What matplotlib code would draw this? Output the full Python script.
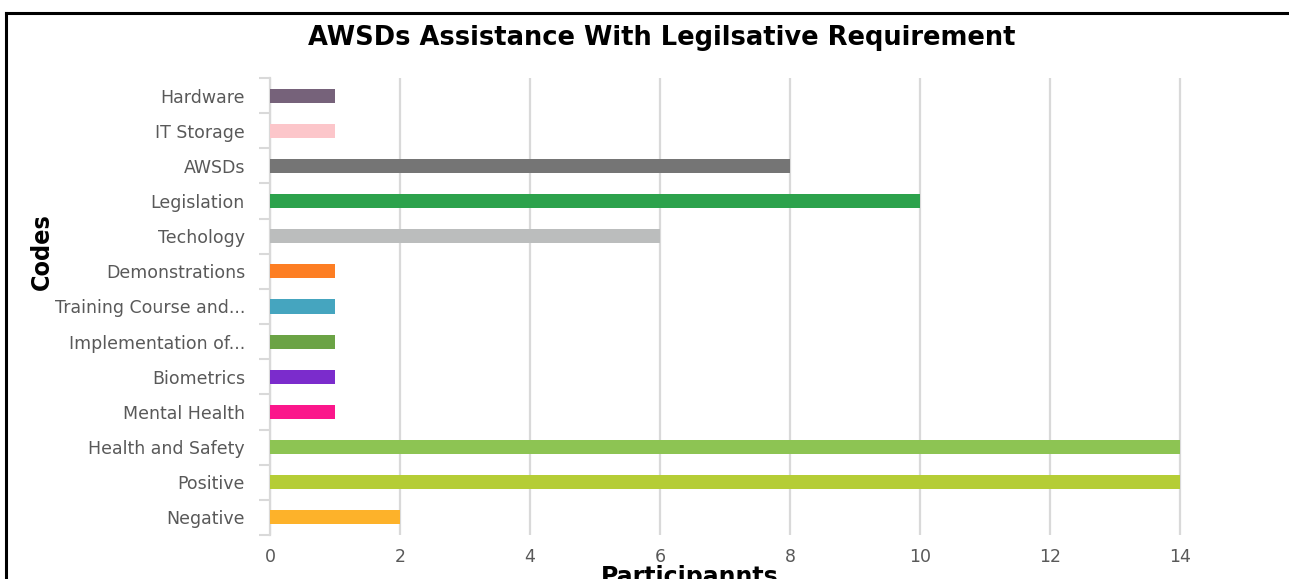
import matplotlib.pyplot as plt
from matplotlib.lines import Line2D

# data, listed top to bottom as in the chart
codes = ['Hardware', 'IT Storage', 'AWSDs', 'Legislation', 'Techology',
         'Demonstrations', 'Training Course and...', 'Implementation of...',
         'Biometrics', 'Mental Health', 'Health and Safety', 'Positive', 'Negative']
participants = [1, 1, 8, 10, 6, 1, 1, 1, 1, 1, 14, 14, 2]
bar_colors = ['#76627a', '#fcc6ca', '#757575', '#2ca24c', '#bbbdbd',
              '#fd7e23', '#45a5bf', '#6ba345', '#7b2ccc', '#fb168b',
              '#8dc453', '#b5cd36', '#fdb22a']
xticks = [0, 2, 4, 6, 8, 10, 12, 14]

plt.rcParams['font.family'] = ['DejaVu Sans']

fig = plt.figure(figsize=(12.89, 5.79), dpi=100)
ax = fig.add_axes([270 / 1289, 1 - 535 / 579, 1 - 270 / 1289, (535 - 78) / 579])

ypos = list(range(len(codes)))
ax.barh(ypos, participants, height=0.4, color=bar_colors, zorder=3)
ax.set_ylim(len(codes) - 0.5, -0.5)
ax.set_xlim(0, (1289 - 270) / 65)

ax.set_yticks(ypos)
ax.set_yticklabels(codes, fontsize=12.5, color='#595959')
ax.tick_params(axis='y', which='major', length=0, pad=18)
ax.set_yticks([i - 0.5 for i in range(len(codes) + 1)], minor=True)
ax.tick_params(axis='y', which='minor', length=8, color='#d9d9d9', width=1.5)

ax.set_xticks(xticks)
ax.set_xticklabels([str(t) for t in xticks], fontsize=12.5, color='#595959')
ax.tick_params(axis='x', length=0, pad=9)

ax.grid(axis='x', color='#d9d9d9', linewidth=1.6, zorder=0)
for s in ['top', 'right', 'bottom']:
    ax.spines[s].set_visible(False)
ax.spines['left'].set_color('#d9d9d9')
ax.spines['left'].set_linewidth(1.6)

fig.text(662 / 1289, 1 - 38 / 579, 'AWSDs Assistance With Legilsative Requirement',
         ha='center', va='center', fontsize=18.5, fontweight='bold')
fig.text(42 / 1289, 1 - 252 / 579, 'Codes', rotation=90, ha='center', va='center',
         fontsize=18, fontweight='bold', fontstretch='condensed')
fig.text(690 / 1289, 1 - 565 / 579, 'Participannts', ha='center', va='top',
         fontsize=17, fontweight='bold')

# frame around the chart (left and top edges)
fig.add_artist(Line2D([5.5 / 1289, 5.5 / 1289], [0, 1 - 12.5 / 579],
                      transform=fig.transFigure, color='black', linewidth=2.2))
fig.add_artist(Line2D([5.5 / 1289, 1], [1 - 12.5 / 579, 1 - 12.5 / 579],
                      transform=fig.transFigure, color='black', linewidth=2.2))

fig.savefig('out.png', dpi=100)
